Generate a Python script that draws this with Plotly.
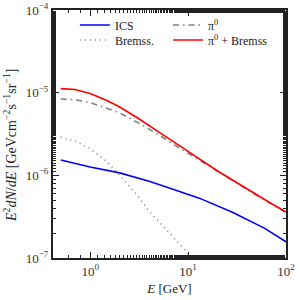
import plotly.graph_objects as go

E = [0.5, 0.7, 1, 1.5, 2, 3, 5, 7, 10, 20, 30, 50, 70, 100]
pi0 = [8.4e-6, 8.2e-6, 7.6e-6, 6.5e-6, 5.7e-6, 4.4e-6, 3.1e-6, 2.4e-6, 1.85e-6,
       1.1e-6, 8.3e-7, 5.75e-7, 4.55e-7, 3.55e-7]
total = [1.12e-5, 1.09e-5, 9.8e-6, 8.0e-6, 6.7e-6, 5.0e-6, 3.35e-6, 2.55e-6, 1.95e-6,
         1.13e-6, 8.4e-7, 5.8e-7, 4.6e-7, 3.6e-7]
E_ics = [0.5, 1, 2, 4, 7, 13, 28, 60, 100]
ics = [1.53e-6, 1.26e-6, 1.07e-6, 8.5e-7, 6.8e-7, 5.3e-7, 3.6e-7, 2.3e-7, 1.57e-7]
E_brems = [0.5, 0.7, 1, 1.5, 2, 3, 4, 6, 8, 10, 12]
brems = [2.9e-6, 2.6e-6, 2.1e-6, 1.45e-6, 1.0e-6, 5.8e-7, 3.7e-7, 2.2e-7, 1.5e-7, 1.12e-7, 9.0e-8]

x_tickvals = [1, 10, 100]
x_ticktext = ["10<sup>0</sup>", "10<sup>1</sup>", "10<sup>2</sup>"]
y_tickvals = [1e-7, 1e-6, 1e-5, 1e-4]
y_ticktext = ["10<sup>−7</sup>", "10<sup>−6</sup>", "10<sup>−5</sup>", "10<sup>−4</sup>"]
y_title = "<i>E</i><sup>2</sup><i>dN</i>/<i>dE</i> [GeVcm<sup>−2</sup>s<sup>−1</sup>sr<sup>−1</sup>]"

FONT = "Liberation Serif"

fig = go.Figure()
fig.add_trace(go.Scatter(x=E_ics, y=ics, mode="lines", name="ICS",
                         line=dict(color="#0000ff", width=1.6), legend="legend"))
fig.add_trace(go.Scatter(x=E_brems, y=brems, mode="lines", name="Bremss.",
                         line=dict(color="#808080", width=1.6, dash="1px,4px"), legend="legend3"))
fig.add_trace(go.Scatter(x=E, y=pi0, mode="lines", name="π<sup>0</sup>",
                         line=dict(color="#808080", width=1.6, dash="6px,4px,1.5px,4px"), legend="legend2"))
fig.add_trace(go.Scatter(x=E, y=total, mode="lines", name="π<sup>0</sup> + Bremss",
                         line=dict(color="#ff0000", width=1.6), legend="legend4"))

axis_common = dict(
    type="log", showgrid=False, zeroline=False, showline=True, linecolor="#222",
    linewidth=2, mirror="allticks", ticks="inside", ticklen=6, tickcolor="#222",
    tickwidth=1, automargin=False,
    tickfont=dict(family=FONT, size=13, color="#333"),
    minor=dict(ticks="inside", ticklen=3, tickcolor="#222", tickwidth=1, showgrid=False),
)

leg_common = dict(xanchor="left", yanchor="middle", bgcolor="rgba(0,0,0,0)",
                  font=dict(family=FONT, size=12, color="#222"), itemwidth=30,
                  borderwidth=0)

fig.update_layout(
    template="none",
    width=300, height=300,
    margin=dict(l=53, r=14, t=10, b=42),
    paper_bgcolor="white", plot_bgcolor="white",
    font=dict(family=FONT, size=12, color="#222"),
    showlegend=True,
    xaxis=dict(axis_common, range=[-0.38, 2], tickvals=x_tickvals, ticktext=x_ticktext,
               title=dict(text="<i>E</i> [GeV]", font=dict(family=FONT, size=13), standoff=6)),
    yaxis=dict(axis_common, range=[-7, -4], tickvals=y_tickvals, ticktext=y_ticktext),
    legend=dict(leg_common, x=0.094, y=0.9395),
    legend3=dict(leg_common, x=0.094, y=0.879),
    legend2=dict(leg_common, x=0.4936, y=0.9395),
    legend4=dict(leg_common, x=0.4936, y=0.879),
    annotations=[dict(text=y_title, textangle=-90, xref="paper", yref="paper",
                      x=-0.1845, y=0.4556, xanchor="center", yanchor="middle",
                      showarrow=False, font=dict(family=FONT, size=14, color="#222"))],
)

fig.write_html("out.html", config={"displayModeBar": False},
               post_script="document.body.style.margin='0';")
